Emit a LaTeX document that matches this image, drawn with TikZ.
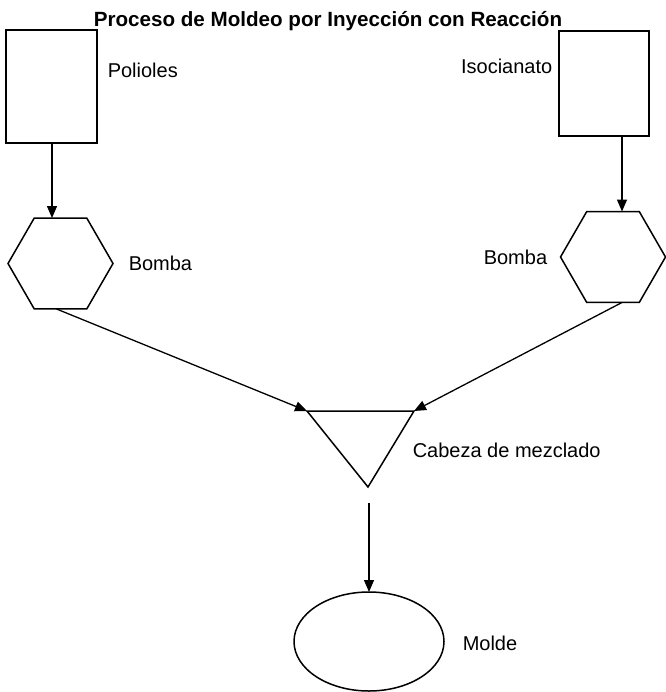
\documentclass[tikz,border=0pt]{standalone}
\usepackage{fontspec}
\setmainfont{Liberation Sans}
\usetikzlibrary{shapes.geometric,arrows.meta}
\begin{document}
\begin{tikzpicture}[x=1pt,y=-1pt,
  line width=1.5pt,
  tank/.style={draw,rectangle,inner sep=0pt,outer sep=0pt},
  pump/.style={draw,regular polygon,regular polygon sides=6,minimum size=105pt,inner sep=0pt,outer sep=0pt},
  mold/.style={draw,ellipse,minimum width=150pt,minimum height=99pt,inner sep=0pt,outer sep=0pt},
  lbl/.style={font=\fontsize{20}{24}\selectfont,anchor=base west,inner sep=0pt},
  flow/.style={-{Triangle[length=12pt,width=10pt]},line width=1.3pt}]
\useasboundingbox (0,0) rectangle (665,692);

% title
\node[font=\bfseries\fontsize{20.6}{24}\selectfont,anchor=base,inner sep=0pt] (title) at (328,27)
  {Proceso de Moldeo por Inyección con Reacción};

% feed tanks
\node[tank,minimum width=91pt,minimum height=113pt] (lrect) at (51.5,86.5) {};
\node[tank,minimum width=90pt,minimum height=105pt] (rrect) at (604,83.5) {};
\node[lbl] (lrectlbl) at (107,78) {Polioles};
\node[lbl,anchor=base east] (rrectlbl) at (553,74) {Isocianato};

% pumps
\node[pump] (lhex) at (60.5,263.5) {};
\node[pump] (rhex) at (613,257) {};
\node[lbl] (lhexlbl) at (128,270) {Bomba};
\node[lbl] (rhexlbl) at (483,265) {Bomba};

% mixing head
\coordinate (tl) at (307,411);
\coordinate (tr) at (414,411);
\coordinate (tb) at (368,487);
\draw (tl) -- (tr) -- (tb) -- cycle;
\coordinate (mixout) at (369,503);
\node[lbl] (mixlbl) at (412,457) {Cabeza de mezclado};

% mold
\node[mold] (ell) at (369,641.5) {};
\node[lbl] (elllbl) at (462,650) {Molde};

% flows
\draw[flow] ([xshift=0.5pt]lrect.south) -- ([xshift=0.5pt]lrect.south |- lhex.north);
\draw[flow] ([xshift=18pt]rrect.south) -- ([xshift=18pt]rrect.south |- rhex.north);
\draw[flow] ([xshift=-4pt]lhex.south) -- (tl);
\draw[flow] ([xshift=9pt]rhex.south) -- (tr);
\draw[flow] (mixout) -- (ell.north);
\end{tikzpicture}
\end{document}
